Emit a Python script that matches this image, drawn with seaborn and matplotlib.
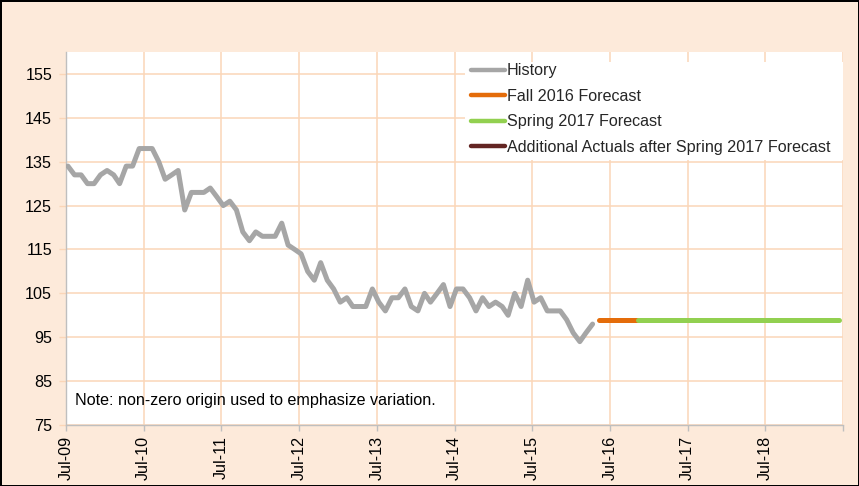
import matplotlib
matplotlib.use("Agg")
import matplotlib.pyplot as plt
from matplotlib.lines import Line2D
from matplotlib.patches import Rectangle
import seaborn as sns
import pandas as pd

# ---- data ----
history_start = "2009-07-01"
history_values = [
    134, 132, 132, 130, 130, 132, 133, 132, 130, 134, 134, 138, 138, 138, 135, 131, 132, 133, 124, 128,
    128, 128, 129, 127, 125, 126, 124, 119, 117, 119, 118, 118, 118, 121, 116, 115, 114, 110, 108, 112,
    108, 106, 103, 104, 102, 102, 102, 106, 103, 101, 104, 104, 106, 102, 101, 105, 103, 105, 107, 102,
    106, 106, 104, 101, 104, 102, 103, 102, 100, 105, 102, 108, 103, 104, 101, 101, 101, 99, 96, 94, 96, 98,
]
fall_dates = ["2016-05-01", "2016-11-01"]
fall_values = [99, 99]
spring_dates = ["2016-11-01", "2019-06-01"]
spring_values = [99, 99]

series_names = ["History", "Fall 2016 Forecast", "Spring 2017 Forecast",
                "Additional Actuals after Spring 2017 Forecast"]
series_colors = ["#A6A6A6", "#E46C0A", "#92D050", "#632523"]

tick_years = list(range(2009, 2020))
y_ticks = [75, 85, 95, 105, 115, 125, 135, 145, 155]
note_text = "Note: non-zero origin used to emphasize variation."

# ---- build frames ----
hist_df = pd.DataFrame({
    "date": pd.date_range(history_start, periods=len(history_values), freq="MS") + pd.Timedelta(days=9),
    "value": history_values,
})
fall_df = pd.DataFrame({"date": pd.to_datetime(fall_dates) + pd.Timedelta(days=9), "value": fall_values})
spring_df = pd.DataFrame({"date": pd.to_datetime(spring_dates) + pd.Timedelta(days=9), "value": spring_values})

sns.set_theme(style="white")
plt.rcParams["font.family"] = ["Liberation Sans", "DejaVu Sans"]

BG = "#FDEADA"
GRID = "#FBD6B8"
SPINE = "#BFBFBF"
FS = 11.6

fig = plt.figure(figsize=(8.59, 4.86), dpi=100, facecolor=BG)
fig.patch.set_edgecolor("black")
fig.patch.set_linewidth(2)
ax = fig.add_axes([66 / 859, 1 - 425 / 486, (843 - 66) / 859, (425 - 52) / 486])
ax.set_facecolor("white")

lw = 3.6
sns.lineplot(data=hist_df, x="date", y="value", ax=ax, color=series_colors[0], lw=lw,
             solid_capstyle="round", solid_joinstyle="round", zorder=3)
sns.lineplot(data=fall_df, x="date", y="value", ax=ax, color=series_colors[1], lw=lw,
             solid_capstyle="round", zorder=3)
sns.lineplot(data=spring_df, x="date", y="value", ax=ax, color=series_colors[2], lw=lw,
             solid_capstyle="round", zorder=4)

# axes limits & ticks
ax.set_xlim(pd.Timestamp("2009-07-01"), pd.Timestamp("2019-07-01"))
ax.set_ylim(75, 160)
xt = [pd.Timestamp(f"{y}-07-01") for y in tick_years]
ax.set_xticks(xt)
ax.set_xticklabels([t.strftime("%b-%y") if t.year < 2019 else "" for t in xt],
                   rotation=90, fontsize=FS, color="black")
ax.set_yticks(y_ticks)
ax.set_yticklabels([str(v) for v in y_ticks], fontsize=FS, color="black")
ax.set_xlabel("")
ax.set_ylabel("")

ax.grid(True, color=GRID, lw=1.1, zorder=0)
ax.set_axisbelow(True)
for s in ["top", "right"]:
    ax.spines[s].set_visible(False)
for s in ["left", "bottom"]:
    ax.spines[s].set_color(SPINE)
    ax.spines[s].set_linewidth(1.0)
ax.tick_params(axis="y", which="both", left=True, length=5, width=1.0, color=GRID,
               pad=5, direction="out")
ax.tick_params(axis="x", which="both", bottom=True, length=4, width=1.0, color=SPINE,
               pad=4, direction="out")

# note
ax.text((75 - 66) / 777, (425 - 405) / 373, note_text, transform=ax.transAxes,
        fontsize=FS, va="baseline", ha="left", color="black", zorder=5)

# white legend area (hides grid lines behind the legend, as in the original)
ax.add_patch(Rectangle(((465 - 66) / 777, (425 - 160) / 373), (843 - 465) / 777, (160 - 62) / 373,
                       transform=ax.transAxes, facecolor="white", edgecolor="none", zorder=1))

# legend
handles = [Line2D([0], [0], color=c, lw=3.2, solid_capstyle="round") for c in series_colors]
leg = ax.legend(handles, series_names, loc="upper left",
                bbox_to_anchor=((468 - 66) / 777, 1 - (60 - 52) / 373),
                frameon=False, fontsize=FS, handlelength=2.1, handletextpad=0.1,
                labelspacing=0.66, borderpad=0.2, borderaxespad=0)
leg.set_zorder(6)

fig.savefig("out.png", dpi=100, facecolor=BG, edgecolor="black")
